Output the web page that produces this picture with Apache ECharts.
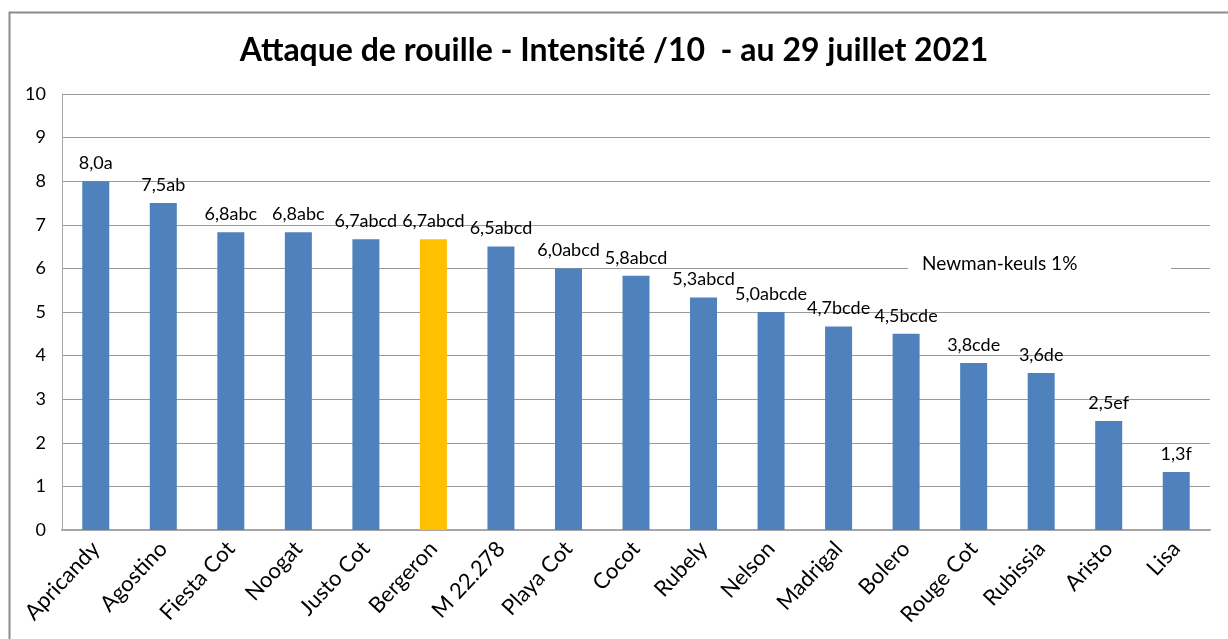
<!DOCTYPE html>
<html><head><meta charset="utf-8">
<script src="https://cdn.jsdelivr.net/npm/echarts@6/dist/echarts.min.js"></script>
<style>html,body{margin:0;padding:0;background:#fff}#c{width:1228px;height:639px}</style>
</head><body><div id="c"></div>
<script>
const categories = ["Apricandy","Agostino","Fiesta Cot","Noogat","Justo Cot","Bergeron","M 22.278","Playa Cot","Cocot","Rubely","Nelson","Madrigal","Bolero","Rouge Cot","Rubissia","Aristo","Lisa"];
const values = [8.0,7.5,6.83,6.83,6.67,6.67,6.5,6.0,5.83,5.33,5.0,4.67,4.5,3.83,3.6,2.5,1.33];
const groups = ["a","ab","abc","abc","abcd","abcd","abcd","abcd","abcd","abcd","abcde","bcde","bcde","cde","de","ef","f"];
const highlight = "Bergeron";
const yTicks = [0,1,2,3,4,5,6,7,8,9,10];
const titleText = "Attaque de rouille - Intensité /10  - au 29 juillet 2021";
const noteText = "Newman-keuls 1%";

const FONT = "Lato, 'Open Sans', sans-serif";
const chart = echarts.init(document.getElementById('c'), null, {renderer:'canvas'});
chart.setOption({
  animation:false,
  backgroundColor:'#fff',
  title:{text:titleText,left:'center',top:30,textStyle:{fontFamily:FONT,fontWeight:'bold',fontSize:32,color:'#000'}},
  grid:{left:62,top:94,right:18,bottom:109,containLabel:false,show:false},
  xAxis:{type:'category',data:categories,
    axisLine:{show:true,lineStyle:{color:'#a6a6a6',width:2}},
    axisTick:{show:false},
    axisLabel:{rotate:47,margin:15,fontFamily:FONT,fontSize:22,color:'#000',interval:0}},
  yAxis:{type:'value',min:0,max:10,interval:1,
    axisLine:{show:true,lineStyle:{color:'#a6a6a6',width:1}},
    axisTick:{show:false},
    splitLine:{lineStyle:{color:'#9a9a9a',width:1}},
    axisLabel:{fontFamily:FONT,fontSize:18,color:'#000',margin:16,
      formatter:v=>yTicks.includes(v)?String(v):''}},
  series:[{type:'bar',barWidth:27,
    data:values.map((v,i)=>({value:v,itemStyle:{color:categories[i]===highlight?'#FFC000':'#4F81BD'}})),
    label:{show:true,position:'top',distance:9,fontFamily:FONT,fontSize:18,color:'#000',
      formatter:p=>values[p.dataIndex].toFixed(1).replace('.',',')+groups[p.dataIndex]}}],
  graphic:[
    {type:'rect',shape:{x:9.5,y:12.5,width:1240,height:700},style:{fill:'none',stroke:'#8c8c8c',lineWidth:2},silent:true,z:-10},
    {type:'rect',shape:{x:908,y:250,width:263,height:32},style:{fill:'#fff'},z:50},
    {type:'text',x:922,y:254,style:{text:noteText,font:'19px '+FONT,fill:'#000'},z:51}
  ]
});
</script></body></html>
